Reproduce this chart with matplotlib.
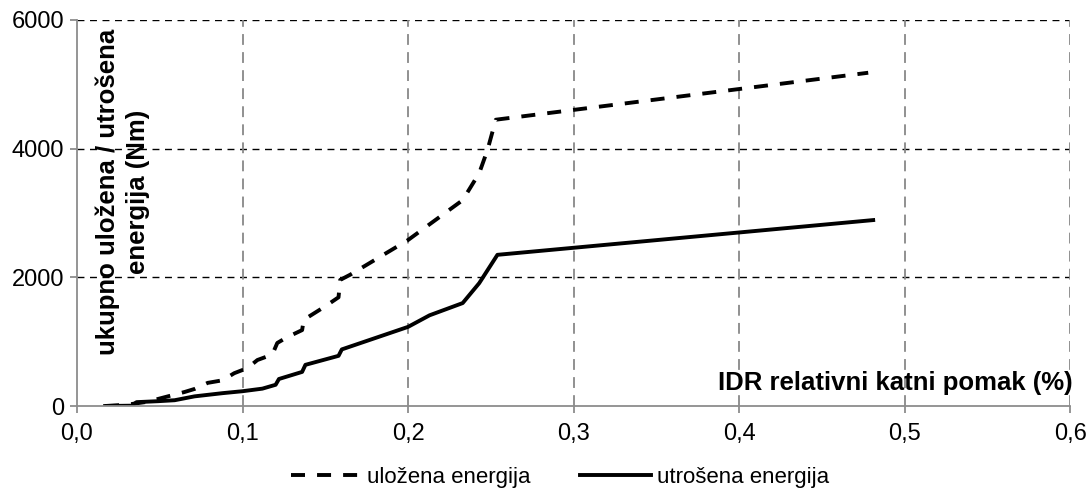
import matplotlib.pyplot as plt
import matplotlib.ticker as mticker

plt.rcParams['font.family'] = ['Liberation Sans', 'DejaVu Sans']

# uložena energija (dashed)
x_ulozena = [0.017, 0.030, 0.041, 0.049, 0.065, 0.071, 0.079, 0.088, 0.095, 0.103,
             0.109, 0.118, 0.121, 0.127, 0.136, 0.137, 0.150, 0.158, 0.159, 0.165,
             0.200, 0.233, 0.243, 0.248, 0.253, 0.478]
y_ulozena = [0, 20, 60, 110, 218, 265, 360, 400, 510, 590,
             715, 800, 980, 1070, 1180, 1340, 1550, 1690, 1960, 2040,
             2580, 3200, 3620, 3980, 4450, 5180]

# utrošena energija (solid)
x_utrosena = [0.017, 0.033, 0.036, 0.049, 0.059, 0.071, 0.088, 0.100, 0.112, 0.120,
              0.122, 0.136, 0.138, 0.158, 0.160, 0.200, 0.213, 0.233, 0.243, 0.254,
              0.481]
y_utrosena = [0, 5, 60, 75, 90, 150, 200, 230, 270, 330,
              420, 530, 640, 780, 880, 1230, 1410, 1600, 1910, 2350,
              2890]

x_ticks = [0.0, 0.1, 0.2, 0.3, 0.4, 0.5, 0.6]
y_ticks = [0, 2000, 4000, 6000]

fig = plt.figure(figsize=(10.89, 4.90), dpi=100)
ax = fig.add_axes([0.0707, 0.1714, 0.912, 0.7878])

ax.plot(x_ulozena, y_ulozena, color='black', lw=2.8, linestyle=(0, (3.6, 3.1)),
        label='uložena energija')
ax.plot(x_utrosena, y_utrosena, color='black', lw=2.8, label='utrošena energija')

ax.set_xlim(0, 0.6)
ax.set_ylim(0, 6000)
ax.set_xticks(x_ticks)
ax.set_yticks(y_ticks)
ax.xaxis.set_major_formatter(mticker.FuncFormatter(lambda v, p: f'{v:.1f}'.replace('.', ',')))

# grid: horizontal black dashed, vertical gray dashed
for yv in y_ticks[1:]:
    ax.axhline(yv, color='black', lw=1.0, linestyle=(0, (5, 4)), zorder=0)
for xv in x_ticks[1:]:
    ax.axvline(xv, color='#888888', lw=1.3, linestyle=(0, (6, 4)), zorder=0)

for s in ['top', 'right']:
    ax.spines[s].set_visible(False)
for s in ['left', 'bottom']:
    ax.spines[s].set_color('#8c8c8c')
    ax.spines[s].set_linewidth(1.3)
ax.tick_params(colors='#8c8c8c', length=5, width=1.3, labelsize=17, labelcolor='black')
ax.tick_params(axis='x', pad=7)
ax.tick_params(axis='y', pad=4)

ax.text(0.046, 0.554, 'ukupno uložena / utrošena\nenergija (Nm)', transform=ax.transAxes,
        rotation=90, ha='center', va='center', multialignment='center',
        fontsize=18.5, fontweight='bold', linespacing=1.3)
ax.text(1.002, 0.06, 'IDR relativni katni pomak (%)', transform=ax.transAxes,
        ha='right', va='center', fontsize=18.5, fontweight='bold')

fig.legend(loc='center', bbox_to_anchor=(0.514, 0.025), ncol=2, frameon=False,
           fontsize=16, handlelength=3.2, columnspacing=2.2, handletextpad=0.25)

fig.savefig('out.png', dpi=100)
